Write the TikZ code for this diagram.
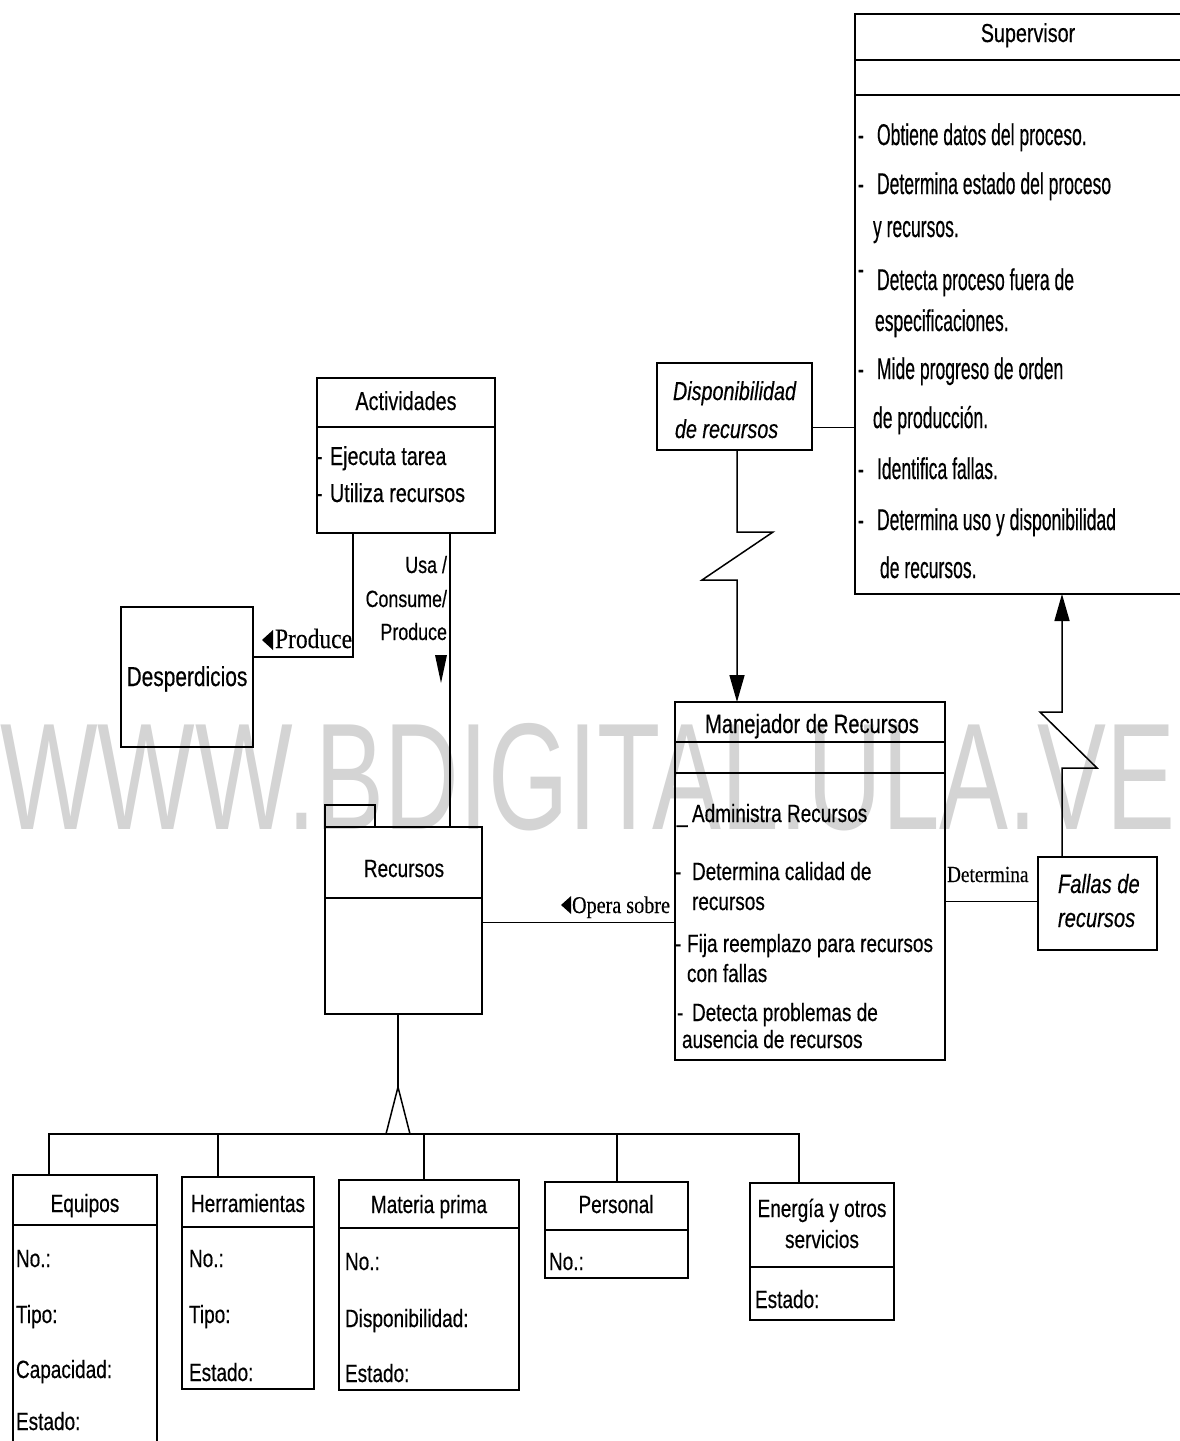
\documentclass[tikz,border=0pt]{standalone}
\usepackage{fontspec}
\setmainfont{Liberation Sans}
\newfontfamily\cnd{Liberation Sans}[FakeStretch=0.76,FakeBold=0.4]
\newfontfamily\cndx{Liberation Sans}[FakeStretch=0.585,FakeBold=0.4]
\newfontfamily\tms{Liberation Serif}[FakeStretch=0.84,FakeBold=0.3]
\newfontfamily\wmf{Liberation Sans}[FakeStretch=0.68]
\usetikzlibrary{arrows.meta,calc}
\newcommand\fsz[1]{\fontsize{#1}{#1}\selectfont}
% horizontal compartment line inside a class box, #2 below its top edge
\newcommand\compline[2]{\draw[sepline] ($(#1.north west)+(0,#2)$) -- ($(#1.north east)+(0,#2)$);}

\begin{document}
\begin{tikzpicture}[x=1pt,y=-1pt,
  umlbox/.style={draw, rectangle, line width=1.8pt, inner sep=0pt, outer sep=0pt, anchor=north west},
  sepline/.style={line width=1.6pt},
  lnk/.style={line width=1.5pt},
  arr/.style={lnk, -{Triangle[width=15pt,length=27pt]}},
  txt/.style={anchor=base west, inner sep=0pt, outer sep=0pt, font=\cnd\fsz{25}},
  ctxt/.style={txt, anchor=base},
  stxt/.style={anchor=base west, inner sep=0pt, outer sep=0pt, font=\cndx\fsz{30}},
  itxt/.style={txt, font=\cnd\itshape\fsz{26}},
  rtxt/.style={anchor=base west, inner sep=0pt, outer sep=0pt, font=\tms\fsz{24}},
  wmark/.style={anchor=base west, inner sep=0pt, outer sep=0pt, font=\wmf\fsz{152}, text=black!17}
]
\useasboundingbox (0,0) rectangle (1180,1441);
\fill[white] (0,0) rectangle (1180,1441);
\clip (0,0) rectangle (1180,1441);

% watermark band
\node[wmark] (wm) at (0,829) {WWW.BDIGITAL.ULA.VE};

% ---------------- Supervisor ----------------
\node[umlbox, minimum width=345pt, minimum height=580pt] (sup) at (855,14) {};
\compline{sup}{46}
\compline{sup}{81}
\node[ctxt, font=\cnd\fsz{26}] (supT) at (1028,42) {Supervisor};
\node[stxt] (sup1) at (858,145) {\makebox[19pt][l]{-}Obtiene datos del proceso.};
\node[stxt] (sup2) at (858,194) {\makebox[19pt][l]{-}Determina estado del proceso};
\node[stxt] (sup3) at (873,237) {y recursos.};
\node[stxt] (sup4) at (858,290) {\makebox[19pt][l]{\raisebox{11pt}{-}}Detecta proceso fuera de};
\node[stxt] (sup5) at (875,331) {especificaciones.};
\node[stxt] (sup6) at (858,379) {\makebox[19pt][l]{-}Mide progreso de orden};
\node[stxt] (sup7) at (873,428) {de producción.};
\node[stxt] (sup8) at (858,479) {\makebox[19pt][l]{-}Identifica fallas.};
\node[stxt] (sup9) at (858,530) {\makebox[19pt][l]{-}Determina uso y disponibilidad};
\node[stxt] (sup10) at (880,578) {de recursos.};

% ---------------- Disponibilidad de recursos ----------------
\node[umlbox, minimum width=155pt, minimum height=87pt] (dis) at (657,363) {};
\node[itxt] (dis1) at (673,400) {Disponibilidad};
\node[itxt] (dis2) at (675,438) {de recursos};

% ---------------- Actividades ----------------
\node[umlbox, minimum width=178pt, minimum height=155pt] (act) at (317,378) {};
\compline{act}{49}
\node[ctxt, font=\cnd\fsz{26}] (actT) at (406,410) {Actividades};
\node[txt, font=\cnd\fsz{26}] (act1) at (316,465) {\makebox[14pt][l]{-}Ejecuta tarea};
\node[txt, font=\cnd\fsz{26}] (act2) at (316,502) {\makebox[14pt][l]{-}Utiliza recursos};

% ---------------- Desperdicios ----------------
\node[umlbox, minimum width=132pt, minimum height=140pt] (des) at (121,607) {};
\node[ctxt, font=\cnd\fsz{27.5}] (desT) at (187,686) {Desperdicios};

% ---------------- Recursos ----------------
\node[umlbox, minimum width=50pt, minimum height=22pt] (rtab) at (325,805) {};
\node[umlbox, minimum width=157pt, minimum height=187pt] (rec) at (325,827) {};
\compline{rec}{71}
\node[ctxt] (recT) at (404,877) {Recursos};

% ---------------- Manejador de Recursos ----------------
\node[umlbox, minimum width=270pt, minimum height=358pt] (man) at (675,702) {};
\compline{man}{40}
\compline{man}{71}
\node[ctxt, font=\cnd\fsz{26.5}] (manT) at (812,733) {Manejador de Recursos};
\node[txt] (man1) at (677,822) {\makebox[15pt][l]{\_}Administra Recursos};
\node[txt] (man2) at (675,880) {\makebox[17pt][l]{-}Determina calidad de};
\node[txt] (man3) at (692,910) {recursos};
\node[txt] (man4) at (675,952) {\makebox[12pt][l]{-}Fija reemplazo para recursos};
\node[txt] (man5) at (687,982) {con fallas};
\node[txt] (man6) at (677,1021) {\makebox[15pt][l]{-}Detecta problemas de};
\node[txt] (man7) at (682,1048) {ausencia de recursos};

% ---------------- Fallas de recursos ----------------
\node[umlbox, minimum width=119pt, minimum height=93pt] (fal) at (1038,857) {};
\node[itxt, font=\cnd\itshape\fsz{26.5}] (fal1) at (1058,893) {Fallas de};
\node[itxt, font=\cnd\itshape\fsz{26.5}] (fal2) at (1058,927) {recursos};

% ---------------- subclasses ----------------
\node[umlbox, minimum width=144pt, minimum height=300pt] (equ) at (13,1175) {};
\compline{equ}{50}
\node[ctxt] (equT) at (85,1212) {Equipos};
\node[txt] (equ1) at (16,1267) {No.:};
\node[txt] (equ2) at (16,1323) {Tipo:};
\node[txt] (equ3) at (16,1378) {Capacidad:};
\node[txt] (equ4) at (16,1430) {Estado:};

\node[umlbox, minimum width=132pt, minimum height=212pt] (her) at (182,1177) {};
\compline{her}{50}
\node[ctxt] (herT) at (248,1212) {Herramientas};
\node[txt] (her1) at (189,1267) {No.:};
\node[txt] (her2) at (189,1323) {Tipo:};
\node[txt] (her3) at (189,1381) {Estado:};

\node[umlbox, minimum width=180pt, minimum height=210pt] (mat) at (339,1180) {};
\compline{mat}{48}
\node[ctxt] (matT) at (429,1213) {Materia prima};
\node[txt] (mat1) at (345,1270) {No.:};
\node[txt] (mat2) at (345,1327) {Disponibilidad:};
\node[txt] (mat3) at (345,1382) {Estado:};

\node[umlbox, minimum width=143pt, minimum height=96pt] (per) at (545,1182) {};
\compline{per}{48}
\node[ctxt] (perT) at (616,1213) {Personal};
\node[txt] (per1) at (549,1270) {No.:};

\node[umlbox, minimum width=144pt, minimum height=137pt] (ene) at (750,1183) {};
\compline{ene}{84}
\node[ctxt] (eneT1) at (822,1217) {Energía y otros};
\node[ctxt] (eneT2) at (822,1248) {servicios};
\node[txt] (ene1) at (755,1308) {Estado:};

% ---------------- connectors ----------------
% availability note attached to the supervisor
\coordinate (s0) at ($(dis.east)+(0,21)$);
\draw[lnk] (s0) -- (s0 -| sup.west);

% availability -> resource manager (lightning)
\coordinate (d0) at ($(dis.south west)+(80,0)$);
\draw[arr] (d0) -- ++(0,82) -- ++(36,0) -- ++(-71,48) -- ++(35,0) -- (d0 |- man.north);

% failures -> supervisor (lightning)
\coordinate (f0) at ($(fal.north west)+(24,0)$);
\draw[arr] (f0) -- ++(0,-89) -- ++(35,0) -- ++(-57,-56) -- ++(22,0) -- (f0 |- sup.south);

% manager -- failures
\coordinate (m0) at ($(fal.west)+(0,-2)$);
\draw[lnk] (m0) -- (m0 -| man.east);
\node[rtxt, font=\tms\fsz{23}] (lDet) at (947,882) {Determina};

% resources -- manager
\coordinate (r0) at ($(rec.east)+(0,2)$);
\draw[lnk] (r0) -- (r0 -| man.west);
\node[rtxt, anchor=base east] (lOp) at (670,913) {Opera sobre};
\fill ($(lOp.base west)+(-11,-8)$) -- ($(lOp.base west)+(-1,-17)$) -- ($(lOp.base west)+(-1,1)$) -- cycle;

% activities -> waste
\coordinate (a0) at ($(act.south west)+(36,0)$);
\draw[lnk] (a0) |- ($(des.north east)+(0,50)$);
\node[rtxt, font=\tms\fsz{28}] (lPr) at (275,648) {Produce};
\fill ($(lPr.base west)+(-13,-8)$) -- ($(lPr.base west)+(-2,-18)$) -- ($(lPr.base west)+(-2,2)$) -- cycle;

% activities -> resources
\coordinate (a1) at ($(act.south west)+(133,0)$);
\draw[lnk] (a1) -- (a1 |- rec.north);
\node[txt, anchor=base east, font=\cnd\fsz{23.5}] (usa1) at (447,573) {Usa /};
\node[txt, anchor=base east, font=\cnd\fsz{23.5}] (usa2) at (447,607) {Consume/};
\node[txt, anchor=base east, font=\cnd\fsz{23.5}] (usa3) at (447,640) {Produce};
\fill ($(usa3.base east)+(-12,15)$) -- ($(usa3.base east)+(0,15)$) -- ($(usa3.base east)+(-6,43)$) -- cycle;

% generalisation of resources
\coordinate (apex) at (398,1087);
\coordinate (bus) at (398,1134);
\draw[lnk] (rec.south -| apex) -- (apex);
\draw[lnk] ($(bus)+(-12,0)$) -- (apex) -- ($(bus)+(12,0)$);
\coordinate (b1) at ($(equ.north west)+(36,0)$);
\coordinate (b2) at ($(her.north west)+(36,0)$);
\coordinate (b3) at ($(mat.north west)+(85,0)$);
\coordinate (b4) at ($(per.north west)+(72,0)$);
\coordinate (b5) at ($(ene.north west)+(49,0)$);
\draw[lnk] (b1) -- (b1 |- bus) -- (b5 |- bus) -- (b5);
\draw[lnk] (b2) -- (b2 |- bus);
\draw[lnk] (b3) -- (b3 |- bus);
\draw[lnk] (b4) -- (b4 |- bus);
\end{tikzpicture}
\end{document}
